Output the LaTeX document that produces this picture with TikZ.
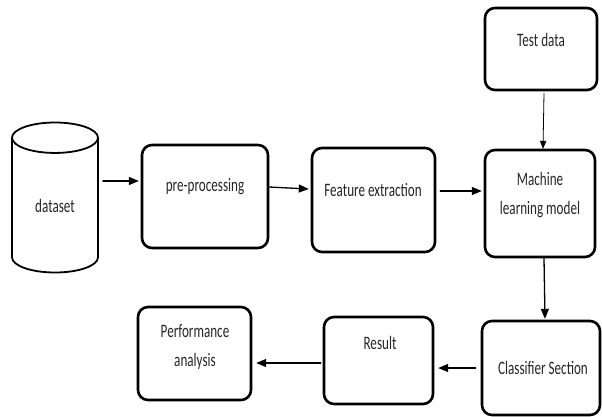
\documentclass[tikz,border=0pt]{standalone}
\usepackage{fontspec}
\setmainfont{Carlito}[FakeStretch=0.69]
\usetikzlibrary{arrows, calc, positioning, shapes.geometric}

\begin{document}
\begin{tikzpicture}[line cap=round,line join=round,>=triangle 45,x=1pt,y=-1pt,
  every node/.style={font=\fontsize{19}{29}\selectfont, text=black!85},
  block/.style={draw, line width=2.6pt, rounded corners=10pt, inner sep=0pt},
  txt/.style={align=center, inner sep=0pt},
  arr/.style={->, line width=1.3pt}]
\useasboundingbox (0,0) rectangle (602,416);

% Database
\node [cylinder, shape border rotate=90, draw, line width=1.8pt, aspect=0.77,
  minimum width=86pt, minimum height=150pt, inner sep=0pt, anchor=shape center] (data) at (55,197.5) {dataset};

% Boxes
\node [block, minimum width=126pt, minimum height=103pt] (pre) at (205,196.5) {};
\node [block, minimum width=123pt, minimum height=104pt] (feat) at (373.5,200) {};
\node [block, minimum width=110pt, minimum height=107pt] (ml) at (540,203.5) {};
\node [block, minimum width=112pt, minimum height=82pt] (test) at (541,49) {};
\node [block, minimum width=118pt, minimum height=94pt] (cls) at (541,368) {};
\node [block, minimum width=109pt, minimum height=87pt] (res) at (378.5,360.5) {};
\node [block, minimum width=113pt, minimum height=93pt] (perf) at (194.5,353.5) {};

% Labels
\node [txt] (pretxt) at (205,187) {pre-processing};
\node [txt] (feattxt) at (373,190) {Feature extraction};
\node [txt] (mltxt) at (540,195) {Machine\\learning model};
\node [txt] (testtxt) at (541,40) {Test data};
\node [txt] (clstxt) at (543,368) {Classifier Section};
\node [txt] (restxt) at (380,343) {Result};
\node [txt] (perftxt) at (195,347) {Performance\\analysis};

% Arrows
\draw [arr] ([xshift=4pt,yshift=15.5pt]data.east |- pre.west) -- ([xshift=-2pt,yshift=15.5pt]pre.west);
\draw [arr] ([yshift=9.5pt]pre.east) -- ([xshift=-2pt,yshift=11pt]feat.west);
\draw [arr] ([xshift=4pt,yshift=9pt]feat.east) -- ([xshift=-2pt,yshift=9pt]ml.west |- feat.east);
\draw [->, line width=0.8pt] ([xshift=3pt,yshift=-2pt]test.south) -- ([xshift=3pt]ml.north);
\draw [arr] ([xshift=4pt]ml.south) -- ([xshift=4pt,yshift=1pt]cls.north);
\draw [arr] ([xshift=-5pt]cls.west) -- ([xshift=4pt]cls.west -| res.east);
\draw [arr] ([xshift=-2pt,yshift=-2.5pt]res.west) -- ([xshift=4pt,yshift=-2.5pt]res.west -| perf.east);
\end{tikzpicture}
\end{document}
